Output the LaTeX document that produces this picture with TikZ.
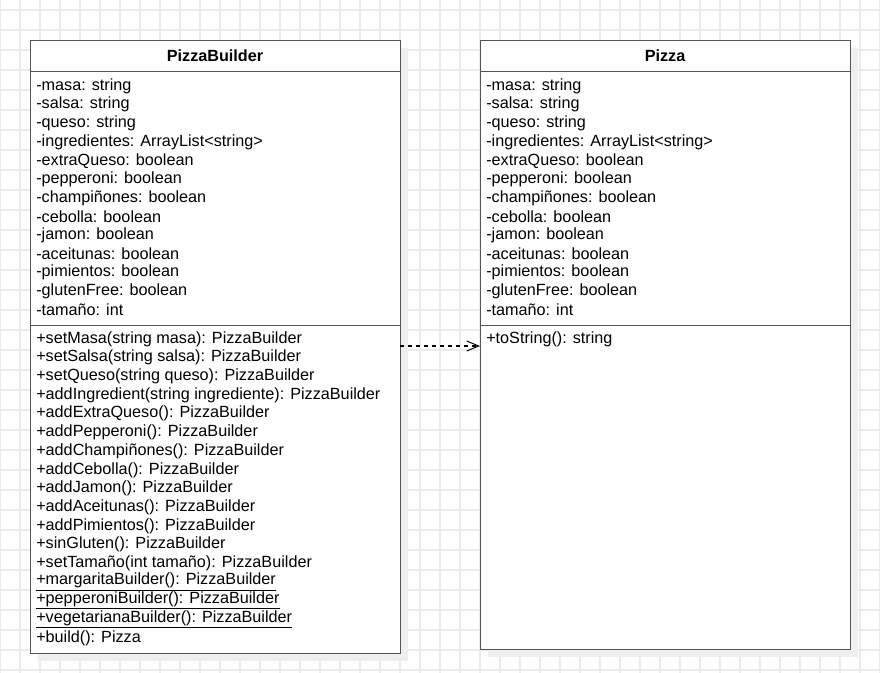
\documentclass[tikz,border=0pt]{standalone}
\usepackage{fontspec}
\setmainfont{Liberation Sans}
\usetikzlibrary{arrows.meta}
\definecolor{gridgray}{HTML}{EBEBEB}
\definecolor{shadegray}{HTML}{EFEFEF}
\definecolor{boxgray}{HTML}{555555}

\begin{document}
\begin{tikzpicture}[x=0.75pt,y=-0.75pt,
      gridline/.style={draw=gridgray,line width=0.9pt},
      shade/.style={fill=shadegray},
      compartment/.style={draw=boxgray,line width=1.1pt,fill=white,
        anchor=north west,inner sep=0pt,minimum width=277.5pt},
      classname/.style={inner sep=0pt,font=\fontsize{12.15}{14}\selectfont\bfseries},
      member/.style={anchor=west,inner sep=0pt,font=\fontsize{12.15}{14}\selectfont},
      dependency/.style={dashed,dash pattern=on 3pt off 3pt,line width=0.8pt,
        -{Straight Barb[length=9pt,width=7.5pt,line width=0.75pt]}}]
    \useasboundingbox (0,0) rectangle (880,673);
    % background grid
    \foreach \x in {0,20,...,880}
        \draw[gridline] (\x,0) -- (\x,673);
    \foreach \y in {10,30,...,670}
        \draw[gridline] (0,\y) -- (880,\y);
    % shadows
    \fill[shade] (38,48) rectangle (408,661);
    \fill[shade] (488,48) rectangle (858,657);
    % PizzaBuilder
    \node[compartment,minimum height=23.25pt] (pbhead) at (30,40) {};
    \node[compartment,minimum height=190.5pt] (pbattr) at (30,71) {};
    \node[compartment,minimum height=246pt] (pbops) at (30,325) {};
    \node[classname] (pbname) at (215,56) {PizzaBuilder};
    \foreach \t [count=\i] in {-masa: string,-salsa: string,-queso: string,
        -ingredientes: ArrayList<string>,-extraQueso: boolean,-pepperoni: boolean,
        -champiñones: boolean,-cebolla: boolean,-jamon: boolean,-aceitunas: boolean,
        -pimientos: boolean,-glutenFree: boolean,-tamaño: int}
        \node[member] (pba\i) at (36,{86+(\i-1)*18.67}) {\t};
    \foreach \t [count=\i] in {+setMasa(string masa): PizzaBuilder,
        +setSalsa(string salsa): PizzaBuilder,+setQueso(string queso): PizzaBuilder,
        +addIngredient(string ingrediente): PizzaBuilder,+addExtraQueso(): PizzaBuilder,
        +addPepperoni(): PizzaBuilder,+addChampiñones(): PizzaBuilder,
        +addCebolla(): PizzaBuilder,+addJamon(): PizzaBuilder,
        +addAceitunas(): PizzaBuilder,+addPimientos(): PizzaBuilder,
        +sinGluten(): PizzaBuilder,+setTamaño(int tamaño): PizzaBuilder,
        {\underline{+margaritaBuilder(): PizzaBuilder}},
        {\underline{+pepperoniBuilder(): PizzaBuilder}},
        {\underline{+vegetarianaBuilder(): PizzaBuilder}},+build(): Pizza}
        \node[member] (pbo\i) at (36,{339+(\i-1)*18.69}) {\t};
    % Pizza
    \node[compartment,minimum height=23.25pt] (pzhead) at (480,40) {};
    \node[compartment,minimum height=190.5pt] (pzattr) at (480,71) {};
    \node[compartment,minimum height=243pt] (pzops) at (480,325) {};
    \node[classname] (pzname) at (665,56) {Pizza};
    \foreach \t [count=\i] in {-masa: string,-salsa: string,-queso: string,
        -ingredientes: ArrayList<string>,-extraQueso: boolean,-pepperoni: boolean,
        -champiñones: boolean,-cebolla: boolean,-jamon: boolean,-aceitunas: boolean,
        -pimientos: boolean,-glutenFree: boolean,-tamaño: int}
        \node[member] (pza\i) at (486,{86+(\i-1)*18.67}) {\t};
    \node[member] (pzo1) at (486,339) {+toString(): string};
    % dependency
    \coordinate (dep) at (400,346);
    \draw[dependency] (dep) -- (pzops.west |- dep);
\end{tikzpicture}
\end{document}
